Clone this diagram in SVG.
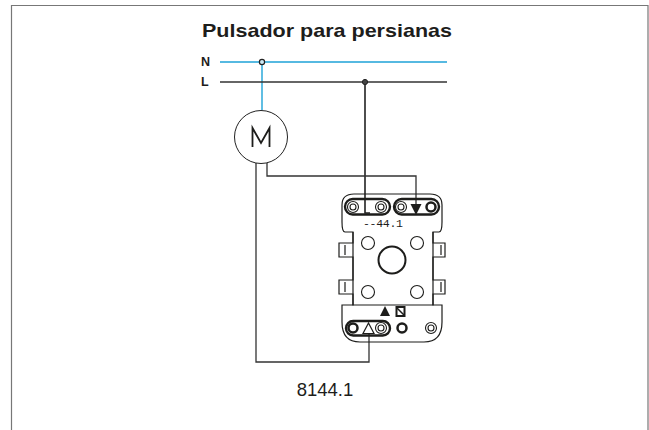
<svg xmlns="http://www.w3.org/2000/svg" width="649" height="430" viewBox="0 0 649 430">
<style>
text{font-family:"Liberation Sans",Arial,sans-serif;fill:#1d1d1b}
.k{fill:none;stroke:#1d1d1b;stroke-width:1.2}
.t{fill:none;stroke:#1d1d1b;stroke-width:2.4}
.h{fill:#fff;stroke:#1d1d1b;stroke-width:1.1}
.w{fill:none;stroke:#333;stroke-width:1.3}
</style>
<rect width="649" height="430" fill="#fff"/>
<path id="frame" d="M11.5 430V5.5H648V430" fill="none" stroke="#777" stroke-width="1.2"/>
<text id="title" x="327" y="37" text-anchor="middle" font-size="19" font-weight="bold" textLength="250" lengthAdjust="spacingAndGlyphs">Pulsador para persianas</text>
<g id="label-N"><text x="201" y="66" font-size="12.5" font-weight="bold">N</text></g>
<g id="label-L"><text x="201" y="86" font-size="12.5" font-weight="bold">L</text></g>
<g id="connectors">
<path d="M220 62H447M262 62V110" fill="none" stroke="#1fa3d8" stroke-width="1.4"/>
<path d="M220 82H447" fill="none" stroke="#333" stroke-width="1.5"/>
<path d="M365 82V213H370" fill="none" stroke="#222" stroke-width="1.6"/>
<path class="w" d="M256 163V362H369V333"/>
<path class="w" d="M267 163V176H416V205"/>
<circle cx="262" cy="62" r="2.6" fill="#cfeaf5" stroke="#222" stroke-width="1.2"/>
<circle cx="365" cy="82" r="2.6" fill="#444" stroke="#222" stroke-width="1"/>
</g>
<g id="motor">
<circle cx="261" cy="137" r="26.5" fill="#fff" stroke="#222" stroke-width="1"/>
<path d="M252.500 147V128L261 143L269.500 128V147" fill="none" stroke="#1d1d1b" stroke-width="1.8"/>
</g>
<g id="switch">
<path class="k" d="M353 232H345Q342 232 342 222V205Q342 194 354 194H430Q442 194 442 205V222Q442 232 439 232H433V243H445V257H433V280H445V294H433V305H442V322Q442 342 424 342H360Q342 342 342 322V305H353V294H339V280H353V257H339V243H353Z"/>
<path class="k" d="M353 232V305H433V232M345 245V255M441 245V255M345 282V292M441 282V292"/>
<rect class="t" x="345" y="199" width="45" height="15.500" rx="7.700"/>
<rect class="t" x="394" y="199" width="45" height="15.500" rx="7.700"/>
<circle class="h" cx="353" cy="207" r="5.500"/><circle class="h" cx="353" cy="207" r="3"/>
<circle class="h" cx="381" cy="207" r="5.500"/><circle class="h" cx="381" cy="207" r="3"/>
<circle class="h" cx="401" cy="207" r="5.500"/><circle class="h" cx="401" cy="207" r="3"/>
<circle cx="431" cy="207" r="4.500" fill="#fff" stroke="#1d1d1b" stroke-width="2.500"/>
<path d="M410.500 204H421.500L416 215Z" fill="#1d1d1b"/>
<text x="363" y="227" font-size="11.500" style="font-family:'Liberation Mono',monospace" textLength="40">--44.1</text>
<circle class="h" cx="368" cy="243" r="6.500"/><circle class="h" cx="417" cy="243" r="6.500"/>
<circle class="h" cx="368" cy="292" r="6.500"/><circle class="h" cx="417" cy="292" r="6.500"/>
<circle cx="392" cy="260" r="13.500" fill="#fff" stroke="#1d1d1b" stroke-width="2"/>
<path d="M380 316L385 306L390 316Z" fill="#1d1d1b"/>
<rect x="396.500" y="307" width="8" height="9" fill="#fff" stroke="#1d1d1b" stroke-width="2"/>
<path d="M397 308L404 315" stroke="#1d1d1b" stroke-width="1.500"/>
<rect class="t" x="346" y="321" width="44" height="14.500" rx="7.200"/>
<circle cx="353" cy="328" r="4.500" fill="#fff" stroke="#1d1d1b" stroke-width="2.500"/>
<circle class="h" cx="381" cy="328" r="5.500"/><circle class="h" cx="381" cy="328" r="3"/>
<path d="M363 333.500H374L368.500 323Z" fill="#fff" stroke="#1d1d1b" stroke-width="1.200"/>
<circle cx="402" cy="328" r="4.500" fill="#fff" stroke="#1d1d1b" stroke-width="2.500"/>
<circle class="h" cx="431" cy="328" r="5.500"/><circle class="h" cx="431" cy="328" r="3"/>
</g>
<text id="model" x="325" y="396" text-anchor="middle" font-size="18.500">8144.1</text>
</svg>
